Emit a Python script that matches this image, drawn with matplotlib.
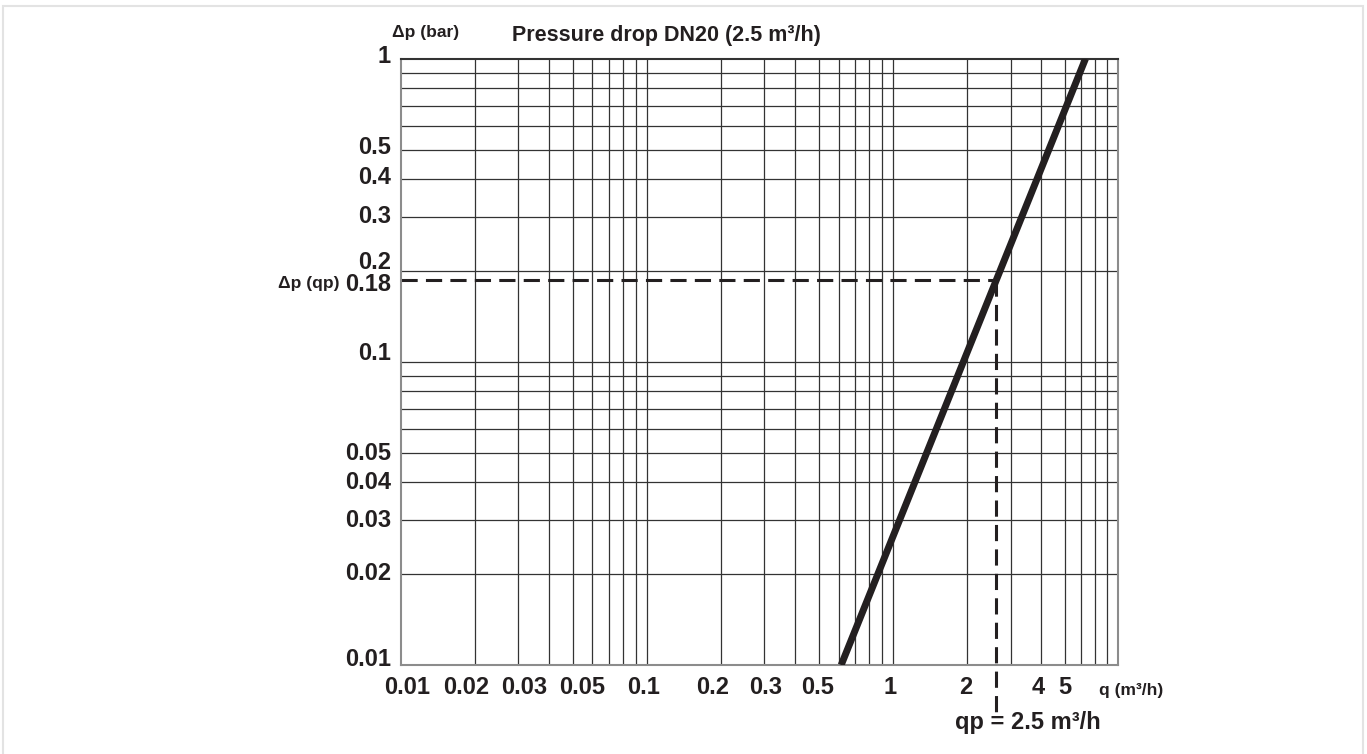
import numpy as np
import matplotlib.pyplot as plt
import matplotlib.transforms as mtransforms
from matplotlib.patches import Rectangle

plt.rcParams['font.family'] = ['Liberation Sans', 'DejaVu Sans']

# curve (ends at the plot borders)
q_curve = [0.615, 6.05]
dp_curve = [0.01, 1.0]

# nominal flow point as drawn
qp = 2.62
dp_qp = 0.186

# grid lines
x_grid = [0.02, 0.03, 0.04, 0.05, 0.06, 0.07, 0.08, 0.09, 0.1,
          0.2, 0.3, 0.4, 0.5, 0.6, 0.7, 0.8, 0.9, 1,
          2, 3, 4, 5, 5.8, 6.6, 7.4]
y_grid = [0.02, 0.03, 0.04, 0.05, 0.06, 0.07, 0.08, 0.09, 0.1,
          0.2, 0.3, 0.4, 0.5, 0.6, 0.7, 0.8, 0.9]

x_ticks = [0.01, 0.02, 0.03, 0.05, 0.1, 0.2, 0.3, 0.5, 1, 2, 4, 5]
x_labels = ['0.01', '0.02', '0.03', '0.05', '0.1', '0.2', '0.3', '0.5', '1', '2', '4', '5']
x_shift = [6, -9, 6, 9, -4, -9, 1, -2, -3, -1, -3, 0]
y_ticks = [1, 0.5, 0.4, 0.3, 0.2, dp_qp, 0.1, 0.05, 0.04, 0.03, 0.02, 0.01]
y_labels = ['1', '0.5', '0.4', '0.3', '0.2', '0.18', '0.1', '0.05', '0.04', '0.03', '0.02', '0.01']
y_shift = [2, 2, 2, 1, 8, -4, 8, 0, 0, 0, 0, 5]

xlim = (0.01, 8.2)
ylim = (0.01, 1)
ink = '#231f20'

fig = plt.figure(figsize=(13.67, 7.54), dpi=100)
ax = fig.add_axes([401 / 1367, 89 / 754, 717 / 1367, 606.3 / 754])
ax.set_xscale('log')
ax.set_yscale('log')
ax.set_xlim(*xlim)
ax.set_ylim(*ylim)

for v in x_grid:
    ax.axvline(v, color='#333333', lw=0.9, zorder=1)
for v in y_grid:
    ax.axhline(v, color='#333333', lw=0.9, zorder=1)

for s in ax.spines.values():
    s.set_color('#8c8c8c')
    s.set_linewidth(1.5)
ax.spines['top'].set_color('#333333')

ax.plot(q_curve, dp_curve, color=ink, lw=5, solid_capstyle='butt', zorder=3)

# dashed guide lines for qp
ax.plot([xlim[0], qp], [dp_qp, dp_qp], color=ink, lw=2.2,
        linestyle=(0, (5.3, 2.7)), zorder=2)
ax.plot([qp, qp], [dp_qp, 0.0070], color=ink, lw=2.2,
        linestyle=(0, (5.3, 2.7)), zorder=2, clip_on=False)

ax.set_xticks([])
ax.set_yticks([])
ax.xaxis.set_minor_locator(plt.NullLocator())
ax.yaxis.set_minor_locator(plt.NullLocator())

xtrans = mtransforms.blended_transform_factory(ax.transData, ax.transAxes)
for v, lab, dx in zip(x_ticks, x_labels, x_shift):
    t = mtransforms.offset_copy(xtrans, fig=fig, x=dx, y=-22, units='dots')
    ax.text(v, 0, lab, transform=t, ha='center', va='center',
            fontsize=17, fontweight='bold', color=ink)

ytrans = mtransforms.blended_transform_factory(ax.transAxes, ax.transData)
for v, lab, dy in zip(y_ticks, y_labels, y_shift):
    t = mtransforms.offset_copy(ytrans, fig=fig, x=-10, y=dy, units='dots')
    ax.text(0, v, lab, transform=t, ha='right', va='center',
            fontsize=17, fontweight='bold', color=ink)

t = mtransforms.offset_copy(ytrans, fig=fig, x=-62, y=-3, units='dots')
ax.text(0, dp_qp, 'Δp (qp)', transform=t, ha='right', va='center',
        fontsize=12.5, fontweight='bold', color=ink)

fig.text(512 / 1367, 1 - 35 / 754, 'Pressure drop DN20 (2.5 m³/h)', ha='left', va='center',
         fontsize=15.5, fontweight='bold', color=ink)
fig.text(426 / 1367, 1 - 33 / 754, 'Δp (bar)', ha='center', va='center',
         fontsize=12.5, fontweight='bold', color=ink)
fig.text(1131 / 1367, 1 - 690 / 754, 'q (m³/h)', ha='center', va='center',
         fontsize=12.5, fontweight='bold', color=ink)
fig.text(1028 / 1367, 1 - 723 / 754, 'qp = 2.5 m³/h', ha='center', va='center',
         fontsize=17, fontweight='bold', color=ink)

fig.add_artist(Rectangle((3 / 1367, -0.02), 1360 / 1367, 1 - 6 / 754 + 0.02,
                         transform=fig.transFigure, fill=False, ec='#e3e3e3', lw=1.5))

fig.savefig('out.png', dpi=100)
